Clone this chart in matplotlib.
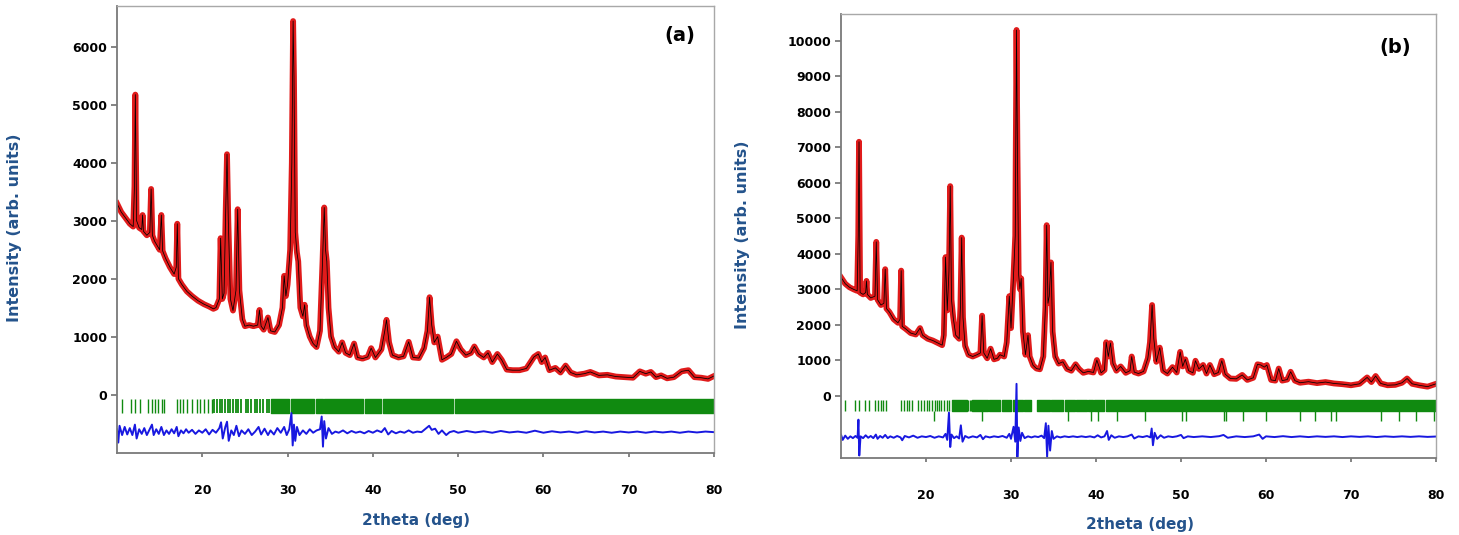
import matplotlib
matplotlib.use("Agg")
import matplotlib.pyplot as plt

# ---------------- panel (a) : observed profile ----------------
tt_a = [10.0, 10.5, 11.0, 11.5, 11.9, 12.05, 12.15, 12.3, 12.6, 12.9,
        13.0, 13.1, 13.5, 13.85, 14.0, 14.15, 14.4, 15.0, 15.2, 15.35,
        15.7, 16.2, 16.7, 16.95, 17.07, 17.2, 17.6, 18.2, 18.8, 19.5,
        20.2, 20.8, 21.3, 21.6, 22.0, 22.15, 22.35, 22.55, 22.75, 22.9,
        23.05, 23.3, 23.6, 23.95, 24.15, 24.35, 24.7, 25.0, 25.5, 26.0,
        26.5, 26.7, 26.9, 27.2, 27.7, 28.0, 28.5, 29.0, 29.4, 29.6,
        29.8, 30.0, 30.3, 30.5, 30.65, 30.75, 30.9, 31.1, 31.25, 31.5,
        31.8, 32.0, 32.2, 32.6, 33.0, 33.4, 33.8, 34.1, 34.3, 34.45,
        34.6, 34.8, 35.1, 35.5, 36.0, 36.4, 36.8, 37.3, 37.8, 38.2,
        38.8, 39.4, 39.8, 40.3, 41.0, 41.4, 41.6, 41.9, 42.3, 43.0,
        43.6, 44.2, 44.7, 45.4, 46.0, 46.4, 46.65, 46.9, 47.2, 47.6,
        48.1, 48.6, 49.2, 49.8, 50.3, 50.9, 51.5, 51.9, 52.4, 53.0,
        53.5, 54.0, 54.6, 55.1, 55.7, 56.4, 57.2, 58.0, 58.9, 59.4,
        59.8, 60.2, 60.7, 61.4, 62.0, 62.6, 63.2, 63.9, 64.8, 65.5,
        66.5, 67.5, 68.5, 69.5, 70.5, 71.3, 72.0, 72.6, 73.2, 73.8,
        74.5, 75.3, 76.2, 77.0, 77.7, 78.5, 79.3, 80.0]
obs_a = [3300, 3150, 3050, 2950, 2900, 3600, 5180, 3000, 2880, 2850,
         3100, 2820, 2750, 2800, 3550, 2750, 2650, 2500, 3100, 2480,
         2350, 2200, 2080, 2200, 2950, 2000, 1900, 1780, 1700, 1620,
         1560, 1520, 1480, 1500, 1650, 2700, 1650, 1750, 3200, 4150,
         3000, 1650, 1450, 1800, 3200, 1800, 1300, 1180, 1200, 1180,
         1200, 1460, 1180, 1120, 1330, 1100, 1080, 1200, 1500, 2050,
         1700, 1900, 2500, 4000, 6450, 5500, 2800, 2450, 2300, 1500,
         1350, 1550, 1200, 1000, 880, 820, 1100, 2300, 3230, 2500,
         2300, 1500, 1000, 820, 740, 900, 720, 680, 880, 640,
         620, 650, 800, 640, 780, 1100, 1290, 900, 680, 640,
         660, 910, 640, 630, 800, 1100, 1680, 1200, 900, 1000,
         600, 640, 700, 920, 780, 680, 720, 830, 700, 640,
         720, 560, 700, 600, 430, 420, 420, 450, 650, 700,
         560, 640, 420, 460, 380, 500, 380, 340, 360, 390,
         330, 340, 310, 300, 290, 400, 360, 390, 300, 330,
         280, 300, 400, 420, 300, 290, 270, 320]

# difference curve (a)
dt_a = [10.0, 10.15, 10.3, 10.6, 10.9, 11.2, 11.5, 11.8, 12.1, 12.3,
        12.6, 12.9, 13.2, 13.5, 13.8, 14.1, 14.3, 14.6, 14.9, 15.2,
        15.5, 15.8, 16.1, 16.4, 16.7, 17.0, 17.2, 17.5, 17.8, 18.1,
        18.4, 18.8, 19.2, 19.6, 20.0, 20.4, 20.8, 21.2, 21.6, 22.0,
        22.2, 22.4, 22.7, 22.9, 23.1, 23.4, 23.7, 24.0, 24.3, 24.6,
        25.0, 25.4, 25.8, 26.2, 26.6, 26.9, 27.3, 27.7, 28.0, 28.4,
        28.8, 29.2, 29.6, 29.9, 30.2, 30.45, 30.6, 30.75, 30.9, 31.1,
        31.4, 31.8, 32.2, 32.6, 33.0, 33.4, 33.8, 34.0, 34.15, 34.3,
        34.5, 34.8, 35.2, 35.6, 36.0, 36.5, 37.0, 37.5, 38.0, 38.5,
        39.0, 39.5, 40.0, 40.5, 41.0, 41.4, 41.8, 42.2, 42.7, 43.2,
        43.7, 44.2, 44.7, 45.2, 45.7, 46.2, 46.6, 46.9, 47.3, 47.7,
        48.1, 48.6, 49.0, 49.5, 50.0, 51.0, 52.0, 53.0, 54.0, 55.0,
        56.0, 57.0, 58.0, 59.0, 60.0, 61.0, 62.0, 63.0, 64.0, 65.0,
        66.0, 67.0, 68.0, 69.0, 70.0, 71.0, 72.0, 73.0, 74.0, 75.0,
        76.0, 77.0, 78.0, 79.0, 80.0]
diff_a = [-600, -830, -540, -700, -560, -690, -580, -700, -520, -760,
          -600, -680, -580, -700, -610, -520, -700, -600, -680, -560,
          -700, -620, -680, -600, -670, -560, -720, -620, -670, -600,
          -660, -610, -680, -620, -660, -600, -690, -610, -660, -580,
          -480, -760, -560, -470, -800, -620, -700, -540, -720, -620,
          -680, -600, -700, -640, -560, -690, -590, -700, -620, -690,
          -580, -660, -560, -700, -600, -320, -880, -520, -800, -560,
          -700, -620, -680, -600, -660, -620, -600, -380, -900, -460,
          -760, -580, -680, -640, -660, -620, -670, -630, -660, -640,
          -670, -630, -660, -620, -650, -580, -690, -630, -670, -640,
          -660, -620, -660, -640, -650, -590, -540, -610, -590, -680,
          -620, -700, -650, -630, -660, -630, -655, -635, -660, -630,
          -655, -640, -660, -625, -660, -635, -655, -640, -660, -635,
          -655, -640, -660, -640, -655, -640, -660, -640, -655, -640,
          -660, -640, -655, -640, -650]

# Bragg positions (a)
ticks_a = [10.62, 11.64, 12.1, 12.73, 13.67, 14.06, 14.45, 14.84, 15.23, 15.54,
           16.99, 17.38, 17.77, 18.16, 18.82, 19.33, 19.72, 20.22, 20.69, 21.09]
ticks_a_dense = [21.40, 21.71, 22.02, 22.33, 22.65, 22.96, 23.27, 23.58, 23.90,
                 24.21, 24.52, 25.07, 25.38, 25.77, 26.16, 26.47, 26.78, 27.13,
                 27.53, 27.80]
blocks_a = [(28.1, 30.15), (30.35, 33.1), (33.3, 34.1), (34.3, 38.9),
            (39.1, 41.0), (41.2, 49.4), (49.6, 80.0)]

# ---------------- panel (b) : observed profile ----------------
tt_b = [10.0, 10.5, 11.0, 11.5, 11.9, 12.03, 12.12, 12.25, 12.6, 12.9,
        13.0, 13.1, 13.5, 14.0, 14.15, 14.3, 14.7, 15.05, 15.2, 15.35,
        15.7, 16.2, 16.7, 16.95, 17.08, 17.2, 17.6, 18.2, 18.8, 19.3,
        19.6, 20.2, 20.8, 21.4, 21.9, 22.1, 22.3, 22.5, 22.7, 22.85,
        23.0, 23.2, 23.5, 23.9, 24.05, 24.2, 24.35, 24.6, 25.0, 25.5,
        26.0, 26.4, 26.6, 26.8, 27.2, 27.6, 28.0, 28.4, 28.7, 29.2,
        29.5, 29.8, 30.0, 30.3, 30.5, 30.65, 30.75, 30.9, 31.05, 31.2,
        31.4, 31.7, 32.0, 32.2, 32.6, 33.0, 33.4, 33.8, 34.05, 34.2,
        34.35, 34.5, 34.7, 34.9, 35.2, 35.6, 36.1, 36.6, 37.1, 37.6,
        38.0, 38.5, 39.1, 39.7, 40.1, 40.6, 41.0, 41.2, 41.45, 41.7,
        42.0, 42.4, 42.9, 43.5, 44.0, 44.2, 44.5, 45.0, 45.6, 46.1,
        46.35, 46.6, 46.8, 47.1, 47.5, 47.9, 48.4, 49.0, 49.5, 49.9,
        50.2, 50.5, 50.9, 51.4, 51.7, 52.1, 52.6, 53.0, 53.4, 53.9,
        54.4, 54.8, 55.2, 55.8, 56.5, 57.2, 57.8, 58.5, 59.0, 59.4,
        59.8, 60.1, 60.6, 61.1, 61.5, 61.9, 62.5, 62.9, 63.4, 64.0,
        65.0, 66.0, 67.0, 68.0, 69.0, 70.0, 71.0, 71.9, 72.4, 72.9,
        73.5, 74.3, 75.2, 76.0, 76.6, 77.2, 78.0, 79.0, 80.0]
obs_b = [3330, 3150, 3050, 2990, 2950, 4500, 7150, 2900, 2850, 2900,
         3230, 2850, 2750, 2800, 4330, 2700, 2550, 2600, 3560, 2450,
         2350, 2150, 2050, 2150, 3520, 1950, 1880, 1760, 1720, 1900,
         1700, 1600, 1550, 1480, 1420, 1700, 3900, 2400, 3500, 5900,
         2700, 2200, 1700, 1600, 2500, 4450, 2200, 1400, 1150, 1100,
         1150, 1200, 2250, 1200, 1050, 1320, 1020, 1050, 1150, 1100,
         1500, 2800, 1900, 3400, 4500, 10300, 7000, 3400, 3000, 3300,
         1800, 1150, 1700, 1100, 850, 760, 740, 1100, 2500, 4800,
         2600, 2800, 3750, 1800, 1100, 900, 950, 750, 700, 880,
         750, 640, 680, 650, 1000, 640, 720, 1500, 1100, 1480,
         900, 700, 820, 640, 700, 1100, 660, 620, 680, 1050,
         1500, 2550, 1600, 950, 1350, 700, 620, 800, 650, 1230,
         820, 1020, 700, 640, 980, 750, 860, 620, 860, 600,
         650, 980, 600, 480, 470, 580, 440, 500, 880, 860,
         800, 860, 440, 420, 760, 420, 450, 670, 420, 360,
         390, 350, 380, 340, 320, 290, 330, 510, 380, 550,
         340, 290, 300, 360, 480, 330, 290, 250, 330]

# difference curve (b)
dt_b = [10.0, 10.2, 10.5, 10.8, 11.1, 11.4, 11.7, 11.95, 12.05, 12.15,
        12.3, 12.6, 12.9, 13.2, 13.5, 13.8, 14.1, 14.3, 14.6, 14.9,
        15.2, 15.5, 15.8, 16.2, 16.6, 17.0, 17.2, 17.5, 18.0, 18.5,
        19.0, 19.5, 20.0, 20.5, 21.0, 21.5, 22.0, 22.3, 22.5, 22.7,
        22.85, 23.0, 23.3, 23.6, 23.9, 24.1, 24.3, 24.6, 25.0, 25.5,
        26.0, 26.4, 26.7, 27.0, 27.5, 28.0, 28.5, 29.0, 29.5, 29.8,
        30.0, 30.3, 30.5, 30.65, 30.75, 30.9, 31.1, 31.3, 31.6, 32.0,
        32.4, 32.8, 33.2, 33.6, 33.9, 34.1, 34.25, 34.4, 34.6, 34.8,
        35.0, 35.4, 35.8, 36.3, 36.8, 37.3, 37.8, 38.3, 38.8, 39.3,
        39.8, 40.2, 40.6, 41.0, 41.3, 41.5, 41.8, 42.2, 42.7, 43.2,
        43.7, 44.2, 44.5, 45.0, 45.5, 46.0, 46.4, 46.55, 46.7, 46.9,
        47.2, 47.6, 48.0, 48.5, 49.0, 49.5, 50.0, 50.3, 50.8, 51.5,
        52.5, 53.5, 54.5, 55.0, 55.5, 56.5, 57.5, 58.5, 59.2, 59.6,
        60.0, 61.0, 62.0, 63.0, 64.0, 65.0, 66.0, 67.0, 68.0, 69.0,
        70.0, 71.0, 72.0, 73.0, 74.0, 75.0, 76.0, 77.0, 78.0, 79.0,
        80.0]
diff_b = [-1100, -1250, -1130, -1220, -1150, -1200, -1140, -1190, -680, -1690,
          -1150, -1200, -1120, -1190, -1140, -1200, -1100, -1220, -1140, -1190,
          -1110, -1200, -1150, -1190, -1140, -1180, -1260, -1140, -1180, -1130,
          -1190, -1150, -1170, -1140, -1190, -1150, -1180, -1080, -1250, -480,
          -1450, -1100, -1200, -1150, -1210, -840, -1300, -1140, -1190, -1150,
          -1180, -1110, -1230, -1150, -1180, -1150, -1170, -1140, -1190, -1080,
          -1220, -880, -1300, 330, -1730, -900, -1280, -1050, -1200, -1150,
          -1180, -1150, -1170, -1130, -1200, -780, -1730, -850, -1550, -1000,
          -1220, -1150, -1180, -1150, -1170, -1150, -1170, -1150, -1170, -1150,
          -1180, -1120, -1180, -1150, -1000, -1250, -1120, -1190, -1150, -1170,
          -1150, -1100, -1210, -1150, -1170, -1140, -1180, -930, -1400, -1050,
          -1220, -1120, -1190, -1150, -1170, -1150, -1110, -1200, -1150, -1170,
          -1150, -1170, -1145, -1110, -1190, -1150, -1170, -1150, -1100, -1220,
          -1150, -1170, -1145, -1170, -1150, -1170, -1150, -1165, -1150, -1170,
          -1150, -1165, -1150, -1170, -1150, -1165, -1150, -1165, -1150, -1165,
          -1155]

# Bragg positions (b), upper and lower rows
ticks_b = [10.51, 11.61, 12.08, 12.87, 13.26, 14.04, 14.36, 14.67, 14.99, 15.34,
           17.11, 17.42, 17.74, 18.01, 18.36, 19.07, 19.46, 19.78, 20.09, 20.41,
           20.72, 21.03, 21.27, 21.50, 21.82, 22.13, 22.45, 22.76, 24.96, 25.12,
           25.28]
blocks_b = [(23.0, 24.8), (25.4, 27.3), (27.45, 28.75), (28.9, 30.05),
            (30.2, 31.4), (31.55, 32.3), (33.1, 34.55), (34.7, 36.1),
            (36.3, 37.5), (37.65, 38.9), (39.05, 39.65), (39.8, 40.9),
            (41.2, 80.0)]
ticks_b2 = [20.9, 26.6, 36.65, 39.45, 40.25, 42.5, 45.75, 50.1, 50.55, 55.0,
            55.35, 57.25, 59.95, 64.0, 65.8, 67.7, 68.2, 73.5, 75.7, 77.7, 79.8]

yticks_a = [0, 1000, 2000, 3000, 4000, 5000, 6000]
yticks_b = [0, 1000, 2000, 3000, 4000, 5000, 6000, 7000, 8000, 9000, 10000]
xticks = [20, 30, 40, 50, 60, 70, 80]

plt.rcParams['font.family'] = ['DejaVu Sans']
plt.rcParams['font.weight'] = 'bold'

RED = '#e01b1b'
GREEN = '#108a10'
BLUE = '#1818e0'
LABEL = '#24538c'

W, H = 1459, 535
fig = plt.figure(figsize=(W / 100, H / 100), dpi=100)
ax_a = fig.add_axes([117 / W, 1 - 453 / H, (714 - 117) / W, (453 - 6) / H])
ax_b = fig.add_axes([841 / W, 1 - 458 / H, (1436 - 841) / W, (458 - 14) / H])


def style(ax, yt, ylim):
    ax.set_xlim(10, 80)
    ax.set_ylim(*ylim)
    ax.set_xticks(xticks)
    ax.set_yticks(yt)
    ax.tick_params(axis='y', direction='out', length=4, width=1.2,
                   color='#707070', pad=3, labelsize=9)
    ax.tick_params(axis='x', direction='out', length=3, width=1.2,
                   color='#707070', pad=19, labelsize=9)
    for side in ['left', 'bottom']:
        ax.spines[side].set_color('#7a7a7a')
        ax.spines[side].set_linewidth(1.3)
    for side in ['top', 'right']:
        ax.spines[side].set_color('#a8a8a8')
        ax.spines[side].set_linewidth(1.0)


# panel (a)
ax_a.plot(tt_a, obs_a, color=RED, lw=4.2, solid_joinstyle='round')
ax_a.plot(tt_a, obs_a, color='black', lw=0.55)
ax_a.vlines(ticks_a, -320, -80, color=GREEN, lw=1.0)
ax_a.vlines(ticks_a_dense, -320, -80, color=GREEN, lw=1.3)
ax_a.broken_barh([(s, e - s) for s, e in blocks_a], (-320, 240), color=GREEN)
ax_a.plot(dt_a, diff_a, color=BLUE, lw=1.4)
style(ax_a, yticks_a, (-1010, 6710))

# panel (b)
ax_b.plot(tt_b, obs_b, color=RED, lw=4.2, solid_joinstyle='round')
ax_b.plot(tt_b, obs_b, color='black', lw=0.55)
ax_b.vlines(ticks_b, -430, -130, color=GREEN, lw=1.0)
ax_b.broken_barh([(s, e - s) for s, e in blocks_b], (-430, 300), color=GREEN)
ax_b.vlines(ticks_b2, -710, -430, color=GREEN, lw=1.0)
ax_b.plot(dt_b, diff_b, color=BLUE, lw=1.4)
style(ax_b, yticks_b, (-1760, 10750))

# labels
fig.text(15 / W, 1 - 228 / H, 'Intensity (arb. units)', rotation=90,
         ha='center', va='center', fontsize=11.5, fontweight='bold', color=LABEL)
fig.text(742 / W, 1 - 235 / H, 'Intensity (arb. units)', rotation=90,
         ha='center', va='center', fontsize=11.5, fontweight='bold', color=LABEL)
fig.text(416 / W, 1 - 520 / H, '2theta (deg)', ha='center', va='center',
         fontsize=11, fontweight='bold', color=LABEL)
fig.text(1140 / W, 1 - 525 / H, '2theta (deg)', ha='center', va='center',
         fontsize=11, fontweight='bold', color=LABEL)
fig.text(680 / W, 1 - 36 / H, '(a)', ha='center', va='center',
         fontsize=14, fontweight='bold', color='black')
fig.text(1395 / W, 1 - 48 / H, '(b)', ha='center', va='center',
         fontsize=14, fontweight='bold', color='black')

fig.savefig('out.png', dpi=100)
